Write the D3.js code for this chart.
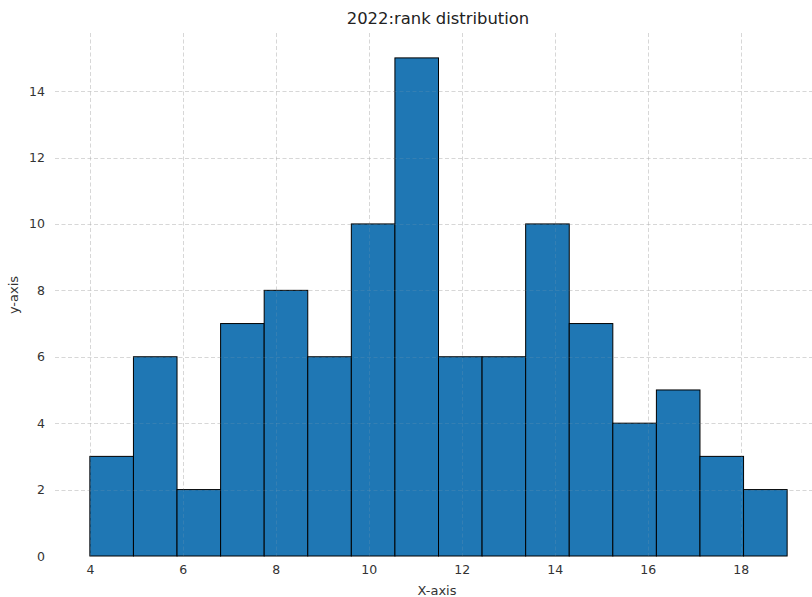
<!DOCTYPE html>
<html><head><meta charset="utf-8">
<script src="https://cdn.jsdelivr.net/npm/d3@7"></script>
<style>body{margin:0;background:#fff;}svg{display:block;font-family:"DejaVu Sans",sans-serif;}</style>
</head><body>
<script>
const binEdges = [4, 4.9375, 5.875, 6.8125, 7.75, 8.6875, 9.625, 10.5625, 11.5, 12.4375, 13.375, 14.3125, 15.25, 16.1875, 17.125, 18.0625, 19];
const counts = [3, 6, 2, 7, 8, 6, 10, 15, 6, 6, 10, 7, 4, 5, 3, 2];
const xTicks = [4, 6, 8, 10, 12, 14, 16, 18];
const yTicks = [0, 2, 4, 6, 8, 10, 12, 14];
const title = "2022:rank distribution";
const xLabel = "X-axis", yLabel = "y-axis";

const W = 812, H = 597;
const svg = d3.select("body").append("svg").attr("width", W).attr("height", H);
const x = d3.scaleLinear().domain([3.25, 19.75]).range([55, 822]);
const y = d3.scaleLinear().domain([0, 15.75]).range([556, 33]);

svg.append("defs").append("clipPath").attr("id","c").append("rect").attr("x",55).attr("y",33).attr("width",W-55).attr("height",523);

function drawGrid(opacity) {
  const grid = svg.append("g").attr("clip-path","url(#c)")
    .attr("stroke", "#b0b0b0").attr("stroke-opacity", opacity).attr("stroke-dasharray", "4,2.5").attr("stroke-width", 1);
  grid.selectAll("line.v").data(xTicks).join("line").attr("class","v")
    .attr("x1", d => Math.round(x(d))+0.5).attr("x2", d => Math.round(x(d))+0.5).attr("y1", 33).attr("y2", 556);
  grid.selectAll("line.h").data(yTicks).join("line").attr("class","h")
    .attr("y1", d => Math.round(y(d))+0.5).attr("y2", d => Math.round(y(d))+0.5).attr("x1", 55).attr("x2", 822);
}
drawGrid(0.4);

const bins = counts.map((c, i) => ({x0: binEdges[i], x1: binEdges[i+1], c}));
svg.append("g").selectAll("rect").data(bins).join("rect")
  .attr("x", d => x(d.x0)).attr("y", d => y(d.c))
  .attr("width", d => x(d.x1) - x(d.x0)).attr("height", d => y(0) - y(d.c))
  .attr("fill", "#1f77b4").attr("stroke", "#000").attr("stroke-width", 1);

drawGrid(0.15);

const xAxis = svg.append("g").attr("transform", "translate(0,556)")
  .call(d3.axisBottom(x).tickValues(xTicks).tickSize(0).tickPadding(9).tickFormat(d3.format("d")));
const yAxis = svg.append("g").attr("transform", "translate(55,0)")
  .call(d3.axisLeft(y).tickValues(yTicks).tickSize(0).tickPadding(10).tickFormat(d3.format("d")));
[xAxis, yAxis].forEach(a => {
  a.select(".domain").remove();
  a.selectAll("text").attr("font-size", 12.5).attr("fill", "#333").attr("font-family", "DejaVu Sans, sans-serif");
});

svg.append("text").attr("x", 438).attr("y", 24).attr("text-anchor", "middle")
  .attr("font-size", 16.4).attr("fill", "#222").text(title);
svg.append("text").attr("x", 437).attr("y", 595).attr("text-anchor", "middle")
  .attr("font-size", 13).attr("fill", "#333").text(xLabel);
svg.append("text").attr("transform", "translate(18,295) rotate(-90)").attr("text-anchor", "middle")
  .attr("font-size", 13).attr("fill", "#333").text(yLabel);
</script>
</body></html>
